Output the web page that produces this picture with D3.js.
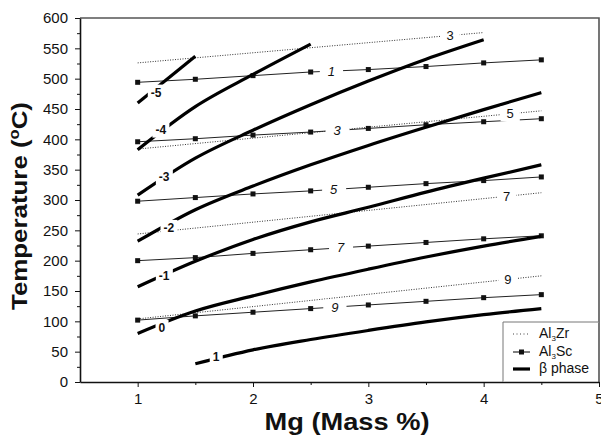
<!DOCTYPE html>
<html>
<head>
<meta charset="utf-8">
<script src="https://cdn.jsdelivr.net/npm/d3@7"></script>
<style>
  body { margin: 0; background: #fff; }
  text { font-family: "Liberation Sans", Arial, sans-serif; fill: #111; }
</style>
</head>
<body>
<div id="chart"></div>
<script>
// Mg content (mass %) sampled for the Al3Sc and beta curves
var mg = [1, 1.5, 2, 2.5, 3, 3.5, 4, 4.5];

// Al3Sc solvus lines (squares), labelled 1,3,5,7,9
var scLabels = ["1", "3", "5", "7", "9"];
var sc1 = [494, 499, 505, 511, 515, 520, 526, 531];
var sc3 = [396, 401, 407, 412, 418, 424, 429, 434];
var sc5 = [298, 304, 310, 315, 321, 327, 332, 338];
var sc7 = [200, 205, 212, 218, 224, 230, 236, 241];
var sc9 = [102, 109, 115, 121, 127, 133, 139, 144];
var scLabelX = [2.68, 2.73, 2.70, 2.76, 2.71];

// Al3Zr solvus lines (dotted), labelled 3,5,7,9
var zrLabels = ["3", "5", "7", "9"];
var zrX = [[1, 4], [1, 4.5], [1, 4.5], [1, 4.5]];
var zr3 = [526, 576];
var zr5 = [384, 447];
var zr7 = [244, 312];
var zr9 = [104, 175];
var zrLabelX = [3.71, 4.23, 4.20, 4.21];

// beta phase curves (thick), labelled -5 .. 1
var betaLabels = ["-5", "-4", "-3", "-2", "-1", "0", "1"];
var betaX = [
  [1, 1.5],
  [1, 1.5, 2, 2.5],
  [1, 1.5, 2, 2.5, 3, 3.5, 4],
  mg, mg, mg,
  [1.5, 2, 2.5, 3, 3.5, 4, 4.5]
];
var betaM5 = [460, 537];
var betaM4 = [383, 454, 507, 557];
var betaM3 = [308, 369, 415, 457, 496, 532, 564];
var betaM2 = [232, 284, 323, 358, 390, 420, 449, 477];
var betaM1 = [157, 199, 235, 264, 288, 313, 336, 358];
var beta0 = [80, 117, 142, 165, 186, 206, 224, 240];
var beta1 = [30, 53, 70, 85, 99, 111, 121];
// label anchor points [Mg, T]
var betaLabelPos = [[1.16, 477], [1.2, 416], [1.23, 338], [1.27, 254], [1.23, 175], [1.21, 89], [1.68, 42]];

var yTicks = d3.range(0, 601, 50);
var xTicks = [1, 2, 3, 4, 5];

// set the dimensions and margins of the graph
var margin = { top: 18, right: 2, bottom: 56, left: 80 },
    width = 601 - margin.left - margin.right,
    height = 438 - margin.top - margin.bottom;

var svg = d3.select("#chart")
    .append("svg")
    .attr("width", 601)
    .attr("height", 438)
    .append("g")
    .attr("transform", "translate(" + margin.left + "," + margin.top + ")");

var x = d3.scaleLinear().domain([0.5, 5]).range([0, width]);
var y = d3.scaleLinear().domain([0, 600]).range([height, 0]);

// frame top / right
svg.append("path")
    .attr("d", "M0,0H" + width + "V" + height)
    .attr("fill", "none")
    .attr("stroke", "#555")
    .attr("stroke-width", 1.6);

// Y axis
svg.append("g")
    .call(d3.axisLeft(y).tickValues(yTicks).tickSize(5).tickPadding(7).tickSizeOuter(0));
svg.append("g")
    .call(d3.axisLeft(y).tickValues(d3.range(25, 600, 50)).tickSize(3).tickFormat("").tickSizeOuter(0))
    .select(".domain").remove();

// X axis
svg.append("g")
    .attr("transform", "translate(0," + height + ")")
    .call(d3.axisBottom(x).tickValues(xTicks).tickFormat(d3.format("d")).tickSize(5).tickPadding(6).tickSizeOuter(0));
svg.append("g")
    .attr("transform", "translate(0," + height + ")")
    .call(d3.axisBottom(x).tickValues([1.5, 2.5, 3.5, 4.5]).tickSize(3).tickFormat("").tickSizeOuter(0))
    .select(".domain").remove();

svg.selectAll(".domain").attr("stroke", "#111").attr("stroke-width", 1.6);
svg.selectAll(".tick line").attr("stroke", "#111");
svg.selectAll(".tick text")
    .style("font-size", "15px")
    .style("font-family", "'Liberation Sans', Arial, sans-serif")
    .attr("fill", "#222");

var line = d3.line()
    .x(function (d) { return x(d[0]); })
    .y(function (d) { return y(d[1]); });
var curve = d3.line()
    .curve(d3.curveMonotoneX)
    .x(function (d) { return x(d[0]); })
    .y(function (d) { return y(d[1]); });

var lines = svg.append("g");
var labels = svg.append("g");

function addLabel(pos, txt, style, padX, padY) {
  var g = labels.append("g");
  var t = g.append("text")
      .attr("x", x(pos[0]))
      .attr("y", y(pos[1]))
      .attr("text-anchor", "middle")
      .attr("dominant-baseline", "central")
      .style("font-size", style.size)
      .style("font-weight", style.weight || "normal")
      .style("font-style", style.italic ? "italic" : "normal")
      .text(txt);
  var b = t.node().getBBox();
  g.insert("rect", "text")
      .attr("x", b.x - padX)
      .attr("y", b.y - padY)
      .attr("width", b.width + 2 * padX)
      .attr("height", b.height + 2 * padY)
      .attr("fill", "#fff");
}

function interp(xs, vs, xv) {
  for (var i = 0; i < xs.length - 1; i++) {
    if (xv >= xs[i] && xv <= xs[i + 1]) {
      return vs[i] + (vs[i + 1] - vs[i]) * (xv - xs[i]) / (xs[i + 1] - xs[i]);
    }
  }
  return vs[vs.length - 1];
}

// Al3Zr dotted lines
[zr3, zr5, zr7, zr9].forEach(function (vals, i) {
  var pts = zrX[i].map(function (m, j) { return [m, vals[j]]; });
  lines.append("path")
      .attr("d", line(pts))
      .attr("fill", "none")
      .attr("stroke", "#333")
      .attr("stroke-width", 1)
      .attr("stroke-dasharray", "1,1.5");
  addLabel([zrLabelX[i], interp(zrX[i], vals, zrLabelX[i])], zrLabels[i], { size: "13px" }, 6, 0);
});

// Al3Sc lines with square markers
[sc1, sc3, sc5, sc7, sc9].forEach(function (vals, i) {
  var pts = mg.map(function (m, j) { return [m, vals[j]]; });
  lines.append("path")
      .attr("d", line(pts))
      .attr("fill", "none")
      .attr("stroke", "#222")
      .attr("stroke-width", 1);
  lines.selectAll(null)
      .data(pts)
      .enter()
      .append("rect")
      .attr("x", function (d) { return x(d[0]) - 2.5; })
      .attr("y", function (d) { return y(d[1]) - 2.5; })
      .attr("width", 5)
      .attr("height", 5)
      .attr("fill", "#111");
  addLabel([scLabelX[i], interp(mg, vals, scLabelX[i])], scLabels[i], { size: "13px", italic: true }, 8, 0);
});

// beta phase curves
[betaM5, betaM4, betaM3, betaM2, betaM1, beta0, beta1].forEach(function (vals, i) {
  var pts = betaX[i].map(function (m, j) { return [m, vals[j]]; });
  lines.append("path")
      .attr("d", curve(pts))
      .attr("fill", "none")
      .attr("stroke", "#000")
      .attr("stroke-width", 3.2);
  addLabel(betaLabelPos[i], betaLabels[i], { size: "12px", weight: "bold" }, 3, 1);
});

// legend
var lg = svg.append("g").attr("transform", "translate(" + (503 - margin.left) + "," + (322 - margin.top) + ")");
lg.append("path")
    .attr("d", "M0," + (height - 304) + "V0H" + (width - 423))
    .attr("fill", "#fff")
    .attr("stroke", "#777")
    .attr("stroke-width", 1);
var items = [
  { k: "zr", base: "Al", sub: "3", rest: "Zr", yy: 12 },
  { k: "sc", base: "Al", sub: "3", rest: "Sc", yy: 30 },
  { k: "beta", base: "β phase", sub: "", rest: "", yy: 47 }
];
items.forEach(function (it) {
  var s = lg.append("line")
      .attr("x1", 10).attr("x2", 27)
      .attr("y1", it.yy).attr("y2", it.yy)
      .attr("stroke", "#000");
  if (it.k === "zr") s.attr("stroke-dasharray", "1,2.5").attr("stroke-width", 1).attr("stroke", "#444");
  if (it.k === "sc") {
    s.attr("stroke-width", 1);
    lg.append("rect").attr("x", 16).attr("y", it.yy - 2.5).attr("width", 5).attr("height", 5).attr("fill", "#111");
  }
  if (it.k === "beta") s.attr("stroke-width", 3.2);
  var t = lg.append("text")
      .attr("x", 36)
      .attr("y", it.yy + 4)
      .style("font-size", "14px");
  t.append("tspan").text(it.base);
  if (it.sub) {
    t.append("tspan").attr("dy", 3).style("font-size", "8px").text(it.sub);
    t.append("tspan").attr("dy", -3).text(it.rest);
  }
});

// axis titles
svg.append("text")
    .attr("x", 267)
    .attr("y", 430 - margin.top)
    .attr("text-anchor", "middle")
    .attr("textLength", 165)
    .attr("lengthAdjust", "spacingAndGlyphs")
    .style("font-size", "24px")
    .style("font-weight", "bold")
    .text("Mg (Mass %)");

var yt = svg.append("text")
    .attr("transform", "translate(" + (27 - margin.left) + "," + (206 - margin.top) + ") rotate(-90)")
    .attr("text-anchor", "middle")
    .attr("textLength", 208)
    .attr("lengthAdjust", "spacingAndGlyphs")
    .style("font-size", "22px")
    .style("font-weight", "bold");
yt.append("tspan").text("Temperature (");
yt.append("tspan").attr("dy", -8).style("font-size", "14px").text("o");
yt.append("tspan").attr("dy", 8).text("C)");
</script>
</body>
</html>
